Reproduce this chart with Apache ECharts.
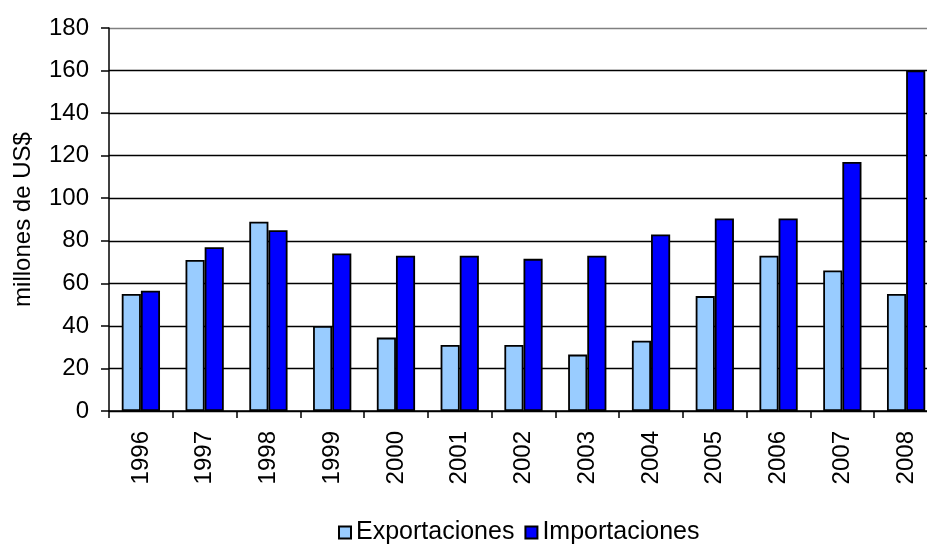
<!DOCTYPE html>
<html lang="es">
  <head>
    <meta charset="UTF-8" />
    <title>Exportaciones e Importaciones</title>
    <style>
      html,
      body {
        margin: 0;
        padding: 0;
        background: #fff;
      }
      #main {
        width: 927px;
        height: 544px;
      }
    </style>
  </head>
  <body>
    <div id="main"></div>
    <script src="https://cdn.jsdelivr.net/npm/echarts@6/dist/echarts.min.js"></script>
    <script>
      // datos (millones de US$)
      const years = ["1996", "1997", "1998", "1999", "2000", "2001", "2002", "2003", "2004", "2005", "2006", "2007", "2008"];
      const exportaciones = [55, 71, 89, 40, 34.5, 31, 31, 26.5, 33, 54, 73, 66, 55];
      const importaciones = [56.5, 77, 85, 74, 73, 73, 71.5, 73, 83, 90.5, 90.5, 117, 160];
      const yTicks = [0, 180, 20]; // min, max, interval

      const font = "Liberation Sans, Arial, sans-serif";

      // lineas de division negras, la de arriba (borde del area) gris
      const gridColors = ["#000", "#000", "#000", "#000", "#000", "#000", "#000", "#000", "#000", "#808080"];

      const chart = echarts.init(document.getElementById("main"));
      const option = {
        animation: false,
        textStyle: { fontFamily: font },
        // el grafico original queda cortado por la derecha
        grid: { left: 109, width: 829, top: 28, height: 383, containLabel: false, outerBoundsMode: "none" },
        legend: {
          top: 520,
          left: 338,
          padding: 0,
          itemWidth: 12,
          itemHeight: 12,
          itemGap: 10,
          icon: "rect",
          textStyle: { fontSize: 25, color: "#000", fontFamily: font },
          data: ["Exportaciones", "Importaciones"],
        },
        xAxis: {
          type: "category",
          data: years,
          axisLine: { lineStyle: { color: "#000", width: 1.5 } },
          axisTick: { show: true, length: 7, alignWithLabel: false, lineStyle: { color: "#000", width: 1.5 } },
          axisLabel: { rotate: 90, margin: 20, fontSize: 24, color: "#000", fontFamily: font },
        },
        yAxis: {
          type: "value",
          min: yTicks[0],
          max: yTicks[1],
          interval: yTicks[2],
          name: "millones de US$",
          nameLocation: "middle",
          nameGap: 74,
          nameTextStyle: { fontSize: 24, color: "#000", fontFamily: font },
          axisLine: { show: true, lineStyle: { color: "#000", width: 1.5 } },
          axisTick: { show: true, length: 8, lineStyle: { color: "#000", width: 1.5 } },
          axisLabel: { margin: 20, fontSize: 24, color: "#000", fontFamily: font },
          splitLine: { lineStyle: { color: gridColors, width: 1.3 } },
        },
        series: [
          {
            name: "Exportaciones",
            type: "bar",
            data: exportaciones,
            barGap: "0%",
            barCategoryGap: "40%",
            itemStyle: { color: "#99CCFF", borderColor: "#000", borderWidth: 1.8 },
          },
          {
            name: "Importaciones",
            type: "bar",
            data: importaciones,
            barGap: "0%",
            barCategoryGap: "40%",
            itemStyle: { color: "#0000FF", borderColor: "#000", borderWidth: 1.8 },
          },
        ],
      };
      chart.setOption(option);
    </script>
  </body>
</html>
